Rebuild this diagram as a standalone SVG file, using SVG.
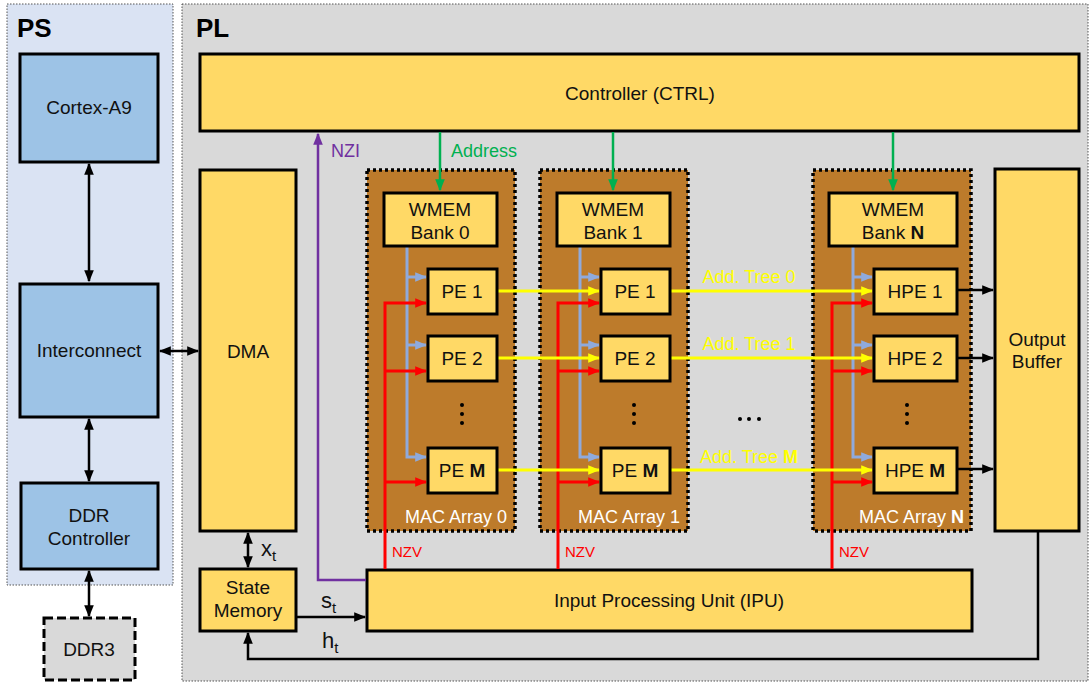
<svg xmlns="http://www.w3.org/2000/svg" width="1091" height="684" viewBox="0 0 1091 684">
<defs>
<style>
text{font-family:"Liberation Sans",Arial,sans-serif;font-size:19px;fill:#111;text-anchor:middle}
.panelPS{fill:#DAE3F3;stroke:#555;stroke-width:1;stroke-dasharray:1.5 1.5}
.panelPL{fill:#D9D9D9;stroke:#555;stroke-width:1;stroke-dasharray:1.5 1.5}
.blue{fill:#9DC3E6;stroke:#000;stroke-width:3}
.yel{fill:#FFD966;stroke:#000;stroke-width:3}
.mac{fill:#BD7B2B;stroke:#000;stroke-width:3.5;stroke-dasharray:3 3}
.ddr3{fill:#D9D9D9;stroke:#000;stroke-width:3;stroke-dasharray:9 4}
.cb{fill:none;stroke:#000;stroke-width:2.5}
.cr{fill:none;stroke:#FF0000;stroke-width:3}
.cy{fill:none;stroke:#FFFF00;stroke-width:3}
.cbl{fill:none;stroke:#8FAADC;stroke-width:3}
.cg{fill:none;stroke:#00B050;stroke-width:2.5}
.cp{fill:none;stroke:#7030A0;stroke-width:2.5}
.head{font-weight:bold;font-size:26px;text-anchor:start;fill:#000}
.macl{fill:#fff;text-anchor:end;font-size:18px}
.tree{fill:#FFFF00;font-size:18px}
.nzv{fill:#FF0000;font-size:15px;text-anchor:start}
</style>
<marker id="mb" viewBox="0 0 10 10" refX="9" refY="5" markerWidth="12" markerHeight="12" markerUnits="userSpaceOnUse" orient="auto-start-reverse"><path d="M0,1 L10,5 L0,9 z" fill="#000"/></marker>
<marker id="mr" viewBox="0 0 10 10" refX="9" refY="5" markerWidth="12" markerHeight="12" markerUnits="userSpaceOnUse" orient="auto"><path d="M0,1 L10,5 L0,9 z" fill="#FF0000"/></marker>
<marker id="my" viewBox="0 0 10 10" refX="9" refY="5" markerWidth="12" markerHeight="12" markerUnits="userSpaceOnUse" orient="auto"><path d="M0,1 L10,5 L0,9 z" fill="#FFFF00"/></marker>
<marker id="ml" viewBox="0 0 10 10" refX="9" refY="5" markerWidth="12" markerHeight="12" markerUnits="userSpaceOnUse" orient="auto"><path d="M0,1 L10,5 L0,9 z" fill="#8FAADC"/></marker>
<marker id="mg" viewBox="0 0 10 10" refX="9" refY="5" markerWidth="12" markerHeight="12" markerUnits="userSpaceOnUse" orient="auto"><path d="M0,1 L10,5 L0,9 z" fill="#00B050"/></marker>
<marker id="mp" viewBox="0 0 10 10" refX="9" refY="5" markerWidth="12" markerHeight="12" markerUnits="userSpaceOnUse" orient="auto"><path d="M0,1 L10,5 L0,9 z" fill="#7030A0"/></marker>
</defs>

<g id="panel-ps">
<rect class="panelPS" x="7" y="4" width="166" height="581"/>
<text class="head" x="17" y="37">PS</text>
</g>
<g id="panel-pl">
<rect class="panelPL" x="182" y="4" width="906" height="677"/>
<text class="head" x="196" y="37">PL</text>
</g>

<g id="cortex"><rect class="blue" x="20" y="54" width="138" height="108"/><text x="89" y="114">Cortex-A9</text></g>
<g id="interconnect"><rect class="blue" x="20" y="284" width="138" height="133"/><text x="89" y="357">Interconnect</text></g>
<g id="ddrctrl"><rect class="blue" x="21" y="483" width="137" height="86"/><text x="89" y="522">DDR</text><text x="89" y="545">Controller</text></g>
<g id="ddr3"><rect class="ddr3" x="44" y="618" width="91" height="62"/><text x="89" y="656">DDR3</text></g>

<g id="controller"><rect class="yel" x="200" y="54" width="879" height="77"/><text x="640" y="100">Controller (CTRL)</text></g>
<g id="dma"><rect class="yel" x="200" y="170" width="96" height="361"/><text x="248" y="358">DMA</text></g>
<g id="statemem"><rect class="yel" x="200" y="569" width="96" height="62"/><text x="248" y="594">State</text><text x="248" y="617">Memory</text></g>
<g id="ipu"><rect class="yel" x="367" y="570" width="605" height="61"/><text x="669" y="607">Input Processing Unit (IPU)</text></g>
<g id="outbuf"><rect class="yel" x="995" y="169" width="84" height="362"/><text x="1037" y="346">Output</text><text x="1037" y="368">Buffer</text></g>

<g id="mac0">
<rect class="mac" x="367" y="170" width="148" height="361"/>
<text class="macl" x="507" y="523">MAC Array 0</text>
</g>
<g id="mac1">
<rect class="mac" x="540" y="170" width="148" height="361"/>
<text class="macl" x="680" y="523">MAC Array 1</text>
</g>
<g id="macN">
<rect class="mac" x="813" y="170" width="158" height="361"/>
<text class="macl" x="964" y="523">MAC Array <tspan font-weight="bold">N</tspan></text>
</g>

<g id="connectors">
<path class="cb" d="M89,164 V281" marker-start="url(#mb)" marker-end="url(#mb)"/>
<path class="cb" d="M89,419 V481" marker-start="url(#mb)" marker-end="url(#mb)"/>
<path class="cb" d="M89,571 V616" marker-start="url(#mb)" marker-end="url(#mb)"/>
<path class="cb" d="M160,351 H198" marker-start="url(#mb)" marker-end="url(#mb)"/>
<path class="cb" d="M248,533 V567" marker-start="url(#mb)" marker-end="url(#mb)"/>
<path class="cb" d="M296,617 H365" marker-end="url(#mb)"/>
<path class="cb" d="M1038,531 V659 H248 V633" marker-end="url(#mb)"/>
<path class="cb" d="M957,290 H993" marker-end="url(#mb)"/>
<path class="cb" d="M957,358 H993" marker-end="url(#mb)"/>
<path class="cb" d="M957,469 H993" marker-end="url(#mb)"/>

<path class="cg" d="M440,132 V190" marker-end="url(#mg)"/>
<path class="cg" d="M613,132 V190" marker-end="url(#mg)"/>
<path class="cg" d="M893,132 V190" marker-end="url(#mg)"/>
<path class="cp" d="M366,580 H318 V134" marker-end="url(#mp)"/>

<path class="cbl" d="M407,247 V457 H426" marker-end="url(#ml)"/>
<path class="cbl" d="M407,277 H426" marker-end="url(#ml)"/>
<path class="cbl" d="M407,345 H426" marker-end="url(#ml)"/>
<path class="cbl" d="M580,247 V457 H599" marker-end="url(#ml)"/>
<path class="cbl" d="M580,277 H599" marker-end="url(#ml)"/>
<path class="cbl" d="M580,345 H599" marker-end="url(#ml)"/>
<path class="cbl" d="M853,247 V457 H872" marker-end="url(#ml)"/>
<path class="cbl" d="M853,277 H872" marker-end="url(#ml)"/>
<path class="cbl" d="M853,345 H872" marker-end="url(#ml)"/>

<path class="cr" d="M385,569 V303 H426" marker-end="url(#mr)"/>
<path class="cr" d="M385,371 H426" marker-end="url(#mr)"/>
<path class="cr" d="M385,482 H426" marker-end="url(#mr)"/>
<path class="cr" d="M558,569 V303 H599" marker-end="url(#mr)"/>
<path class="cr" d="M558,371 H599" marker-end="url(#mr)"/>
<path class="cr" d="M558,482 H599" marker-end="url(#mr)"/>
<path class="cr" d="M832,569 V303 H872" marker-end="url(#mr)"/>
<path class="cr" d="M832,371 H872" marker-end="url(#mr)"/>
<path class="cr" d="M832,482 H872" marker-end="url(#mr)"/>

<path class="cy" d="M498,291 H599" marker-end="url(#my)"/>
<path class="cy" d="M498,358 H599" marker-end="url(#my)"/>
<path class="cy" d="M498,470 H599" marker-end="url(#my)"/>
<path class="cy" d="M671,291 H872" marker-end="url(#my)"/>
<path class="cy" d="M671,358 H872" marker-end="url(#my)"/>
<path class="cy" d="M671,470 H872" marker-end="url(#my)"/>

<text x="331" y="157" style="fill:#7030A0;font-size:18px;text-anchor:start">NZI</text>
<text x="451" y="157" style="fill:#00B050;font-size:18px;text-anchor:start">Address</text>
<text class="nzv" x="392" y="557">NZV</text>
<text class="nzv" x="565" y="557">NZV</text>
<text class="nzv" x="839" y="557">NZV</text>
<text class="tree" x="749" y="283">Add. Tree 0</text>
<text class="tree" x="749" y="350">Add. Tree 1</text>
<text class="tree" x="749" y="463">Add. Tree <tspan font-weight="bold">M</tspan></text>
<text x="261" y="556" style="font-size:22px;text-anchor:start">x<tspan dy="5" font-size="15">t</tspan></text>
<text x="321" y="608" style="font-size:22px;text-anchor:start">s<tspan dy="5" font-size="15">t</tspan></text>
<text x="322" y="648" style="font-size:22px;text-anchor:start">h<tspan dy="5" font-size="15">t</tspan></text>
</g>

<g id="wmem0"><rect class="yel" x="384" y="193" width="113" height="53"/><text x="440" y="216">WMEM</text><text x="440" y="239">Bank 0</text></g>
<g id="wmem1"><rect class="yel" x="557" y="193" width="113" height="53"/><text x="613" y="216">WMEM</text><text x="613" y="239">Bank 1</text></g>
<g id="wmemN"><rect class="yel" x="829" y="193" width="128" height="53"/><text x="893" y="216">WMEM</text><text x="893" y="239">Bank <tspan font-weight="bold">N</tspan></text></g>

<g id="pe0-1"><rect class="yel" x="428" y="269" width="69" height="45"/><text x="462" y="298">PE 1</text></g>
<g id="pe0-2"><rect class="yel" x="428" y="336" width="69" height="45"/><text x="462" y="365">PE 2</text></g>
<g id="pe0-M"><rect class="yel" x="428" y="448" width="69" height="45"/><text x="462" y="477">PE <tspan font-weight="bold">M</tspan></text></g>
<g id="pe1-1"><rect class="yel" x="601" y="269" width="69" height="45"/><text x="635" y="298">PE 1</text></g>
<g id="pe1-2"><rect class="yel" x="601" y="336" width="69" height="45"/><text x="635" y="365">PE 2</text></g>
<g id="pe1-M"><rect class="yel" x="601" y="448" width="69" height="45"/><text x="635" y="477">PE <tspan font-weight="bold">M</tspan></text></g>
<g id="hpe-1"><rect class="yel" x="874" y="269" width="83" height="45"/><text x="915" y="298">HPE 1</text></g>
<g id="hpe-2"><rect class="yel" x="874" y="336" width="83" height="45"/><text x="915" y="365">HPE 2</text></g>
<g id="hpe-M"><rect class="yel" x="874" y="448" width="83" height="45"/><text x="915" y="477">HPE <tspan font-weight="bold">M</tspan></text></g>

<g id="dots" fill="#000">
<circle cx="462" cy="405" r="2"/><circle cx="462" cy="414" r="2"/><circle cx="462" cy="423" r="2"/>
<circle cx="634" cy="405" r="2"/><circle cx="634" cy="414" r="2"/><circle cx="634" cy="423" r="2"/>
<circle cx="907" cy="405" r="2"/><circle cx="907" cy="414" r="2"/><circle cx="907" cy="423" r="2"/>
<circle cx="740" cy="419" r="2"/><circle cx="749" cy="419" r="2"/><circle cx="759" cy="419" r="2"/>
</g>
</svg>
